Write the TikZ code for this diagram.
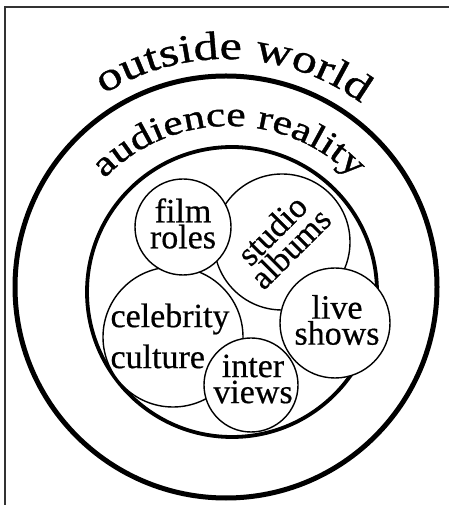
\documentclass[tikz,border=0pt]{standalone}
\usepackage{fontspec}
\setmainfont{Liberation Serif}
\newfontfamily\widefont[FakeStretch=1.25,FakeBold=1.0]{Liberation Serif}
\newfontfamily\lblfont[FakeBold=0.5]{Liberation Serif}
\usetikzlibrary{decorations.text}
\newcommand\owfont{\widefont\fontsize{40}{44}\selectfont}
\newcommand\arfont{\widefont\fontsize{35}{38}\selectfont}
\tikzset{
  bubble/.style={circle, draw=black, fill=white, line width=1.4pt, inner sep=0pt},
  lbl/.style={font=\lblfont\fontsize{34}{26}\selectfont, align=center, inner sep=0pt},
  ring/.style={draw=black},
}
\begin{document}
\begin{tikzpicture}[x=1pt,y=1pt]
\useasboundingbox (0,0) rectangle (448,505);
\fill[white] (0,0) rectangle (448,505);
% frame (only top and left edges visible)
\draw[line width=1.2pt, black!80] (5,-20) -- (5,498) -- (470,498);
% outer ring
\node[circle, ring, line width=5pt, minimum size=422pt, inner sep=0pt] (outer) at (226,218) {};
% inner ring
\node[circle, ring, line width=3.8pt, minimum size=290pt, inner sep=0pt] (inner) at (232,213) {};
% curved labels
\path[decorate, decoration={text along path, text align=center,
  text={|\owfont|outside world}}]
  (226,218) ++(178:228) arc[start angle=178, end angle=-2, radius=228];
\path[decorate, decoration={text along path, text align=center,
  text={|\arfont|audience reality}}]
  (229,205) ++(180:174) arc[start angle=180, end angle=0, radius=174];
% bubbles
\node[bubble, minimum size=136pt] (studio) at (282,263) {};
\node[bubble, minimum size=140pt] (celeb) at (173,168) {};
\node[bubble, minimum size=96pt] (film) at (183,278) {};
\node[bubble, minimum size=110pt] (live) at (335,182) {};
\node[bubble, minimum size=94pt] (inter) at (251,120) {};
% labels
\node[lbl] (tfilm) at (183,281.5) {film\\roles};
\node[lbl, rotate=45] (tstudio) at (281,266) {studio\\albums};
\node[lbl, align=left, font=\lblfont\fontsize{34}{41}\selectfont] (tceleb) at (170,169) {celebrity\\culture};
\node[lbl] (tlive) at (337,185) {live\\shows};
\node[lbl] (tinter) at (253,126) {inter\\views};
\end{tikzpicture}
\end{document}
